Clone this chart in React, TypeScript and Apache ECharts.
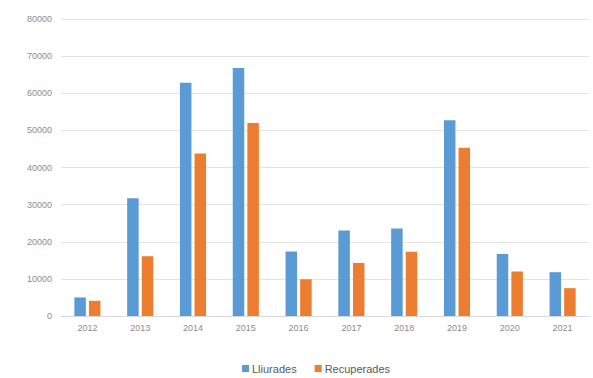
import React, { useEffect, useRef } from "react";
import * as echarts from "echarts";

const years = ["2012", "2013", "2014", "2015", "2016", "2017", "2018", "2019", "2020", "2021"];
const lliurades = [5000, 31700, 62800, 66800, 17400, 23000, 23600, 52700, 16700, 11800];
const recuperades = [4100, 16100, 43800, 52000, 9900, 14300, 17300, 45300, 12000, 7500];

export default function App() {
  const ref = useRef<HTMLDivElement>(null);
  useEffect(() => {
    if (!ref.current) return;
    const chart = echarts.init(ref.current, undefined, { renderer: "svg" });
    chart.setOption({
      animation: false,
      backgroundColor: "#ffffff",
      grid: { left: 61, right: 4, top: 19, bottom: 62, containLabel: false },
      legend: {
        data: ["Lliurades", "Recuperades"],
        top: 363,
        left: 242,
        padding: 0,
        itemWidth: 7,
        itemHeight: 7,
        itemGap: 18,
        icon: "rect",
        textStyle: { color: "#595959", fontSize: 11, fontFamily: "Liberation Sans", padding: [0, 0, 0, -2] },
      },
      xAxis: {
        type: "category",
        data: years,
        axisLine: { lineStyle: { color: "#d9d9d9" } },
        axisTick: { show: false },
        axisLabel: { color: "#8c8c8c", fontSize: 9, margin: 7, fontFamily: "Liberation Sans" },
      },
      yAxis: {
        type: "value",
        min: 0,
        max: 80000,
        interval: 10000,
        axisLine: { show: false },
        axisTick: { show: false },
        splitLine: { lineStyle: { color: "#e3e3e3" } },
        axisLabel: {
          color: "#8c8c8c",
          fontSize: 9,
          margin: 9,
          fontFamily: "Liberation Sans",
          formatter: (v: number) => String(v),
        },
      },
      series: [
        {
          name: "Lliurades",
          type: "bar",
          data: lliurades,
          barWidth: 11.5,
          barGap: "27%",
          itemStyle: { color: "#5B9BD5" },
        },
        {
          name: "Recuperades",
          type: "bar",
          data: recuperades,
          barWidth: 11.5,
          itemStyle: { color: "#ED7D31" },
        },
      ],
    });
    return () => chart.dispose();
  }, []);
  return <div ref={ref} style={{ width: 593, height: 378, position: "absolute", left: 0, top: 0 }} />;
}
